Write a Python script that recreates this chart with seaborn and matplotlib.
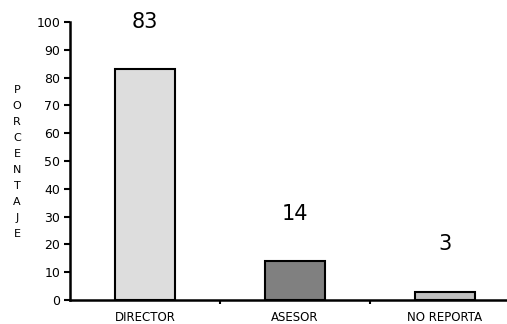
import pandas as pd
import seaborn as sns
import matplotlib.pyplot as plt

# data
categorias = ["DIRECTOR", "ASESOR", "NO REPORTA"]
porcentajes = [83, 14, 3]
colores = ["#dddddd", "#808080", "#c0c0c0"]

df = pd.DataFrame({"categoria": categorias, "porcentaje": porcentajes})

sns.set_style("ticks", {"axes.edgecolor": "black", "text.color": "black",
                        "xtick.color": "black", "ytick.color": "black"})
plt.rcParams["font.family"] = ["DejaVu Sans"]

fig = plt.figure(figsize=(5.07, 3.24), dpi=100)
ax = fig.add_axes([70 / 507, 24 / 324, 450 / 507, 278 / 324])

sns.barplot(data=df, x="categoria", y="porcentaje", hue="categoria",
            palette=colores, legend=False, width=0.4,
            edgecolor="black", linewidth=1.5, ax=ax)

# value labels above each bar
for i, v in enumerate(porcentajes):
    ax.text(i, v + 17, str(v), ha="center", va="center", fontsize=15)

ax.set_xlim(-0.5, 2.5)
ax.set_ylim(0, 100)
ax.set_yticks(range(0, 101, 10))
ax.set_xticks([0, 1, 2])
ax.set_xticks([0.5, 1.5], minor=True)
ax.tick_params(axis="x", which="major", length=0, pad=8, labelsize=8.5)
ax.tick_params(axis="x", which="minor", length=3, width=1.5)
ax.tick_params(axis="y", length=4, width=1.5, labelsize=9, pad=3)
ax.set_xlabel("")
ax.set_ylabel("")

for s in ["top", "right"]:
    ax.spines[s].set_visible(False)
for s in ["left", "bottom"]:
    ax.spines[s].set_linewidth(1.8)

# vertical stacked axis title
fig.text(17 / 507, 1 - 162 / 324, "\n".join("PORCENTAJE"),
         ha="center", va="center", fontsize=8, linespacing=1.75)

fig.savefig("out.png", dpi=100)
